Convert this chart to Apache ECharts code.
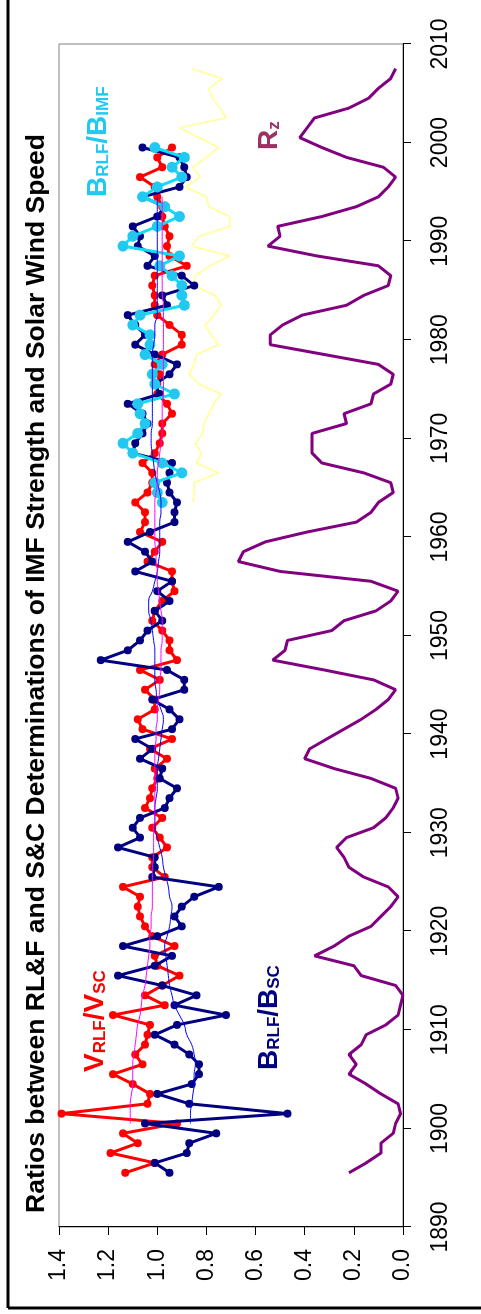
<!DOCTYPE html>
<html>
<head>
<meta charset="utf-8">
<script src="https://cdn.jsdelivr.net/npm/echarts@6/dist/echarts.min.js"></script>
<style>
  html, body { margin: 0; padding: 0; background: #fff; overflow: hidden; }
  /* chart is drawn landscape, then turned a quarter turn to stand upright */
  #chart {
    position: absolute; left: 0; top: 0;
    width: 1314px; height: 481px;
    transform-origin: 0 0;
    transform: translate(0, 1314px) rotate(-90deg);
  }
</style>
</head>
<body>
<div id="chart"></div>
<script>
// yearly values, plotted at mid-year
const startMain = 1895   // V and B ratios, 1895-1999
const vRatio = [
  1.13, 1.01, 1.19, 1.08, 1.14,
  0.92, 1.39, 1.04, 1.03, 1.10, 1.18, 1.06, 1.09, 1.05, 1.04,
  1.03, 1.18, 0.97, 1.05, 0.98, 0.91, 1.00, 1.01, 0.93, 1.02,
  1.05, 1.07, 1.08, 1.07, 1.14, 0.97, 1.02, 1.02, 0.96, 0.99,
  1.02, 0.98, 1.05, 1.03, 1.02, 1.00, 1.01, 0.96, 1.03, 0.94,
  1.06, 1.08, 1.01, 1.01, 1.05, 0.99, 1.07, 0.92, 0.95, 0.95,
  0.98, 1.02, 1.01, 0.98, 0.93, 0.94, 0.94, 1.04, 1.01, 0.98,
  1.07, 1.05, 1.05, 1.09, 1.04, 1.02, 1.02, 1.06, 1.01, 0.99,
  0.98, 0.98, 0.94, 0.96, 1.00, 1.00, 0.99, 1.01, 0.98, 0.90,
  0.90, 0.95, 1.00, 1.01, 1.01, 1.02, 1.01, 0.88, 0.95, 0.96,
  0.95, 0.97, 0.98, 0.98, 1.00, 1.01, 1.07, 0.98, 1.00, 0.94
]
const bRatio = [
  0.95, 1.01, 0.88, 0.87, 0.76,
  1.05, 0.47, 0.87, 1.00, 0.86, 0.83, 0.83, 0.87, 0.93, 1.01,
  0.92, 0.72, 0.93, 0.84, 0.98, 1.16, 1.01, 0.94, 1.14, 1.00,
  0.90, 0.93, 0.90, 0.85, 0.75, 1.02, 1.01, 1.01, 1.16, 1.07,
  1.10, 1.07, 0.97, 0.95, 0.92, 0.99, 0.98, 1.07, 1.02, 1.09,
  0.94, 0.91, 0.95, 1.02, 0.89, 0.89, 0.96, 1.23, 1.12, 1.07,
  1.04, 0.98, 1.01, 0.95, 1.00, 0.94, 1.09, 1.02, 1.05, 1.12,
  1.03, 0.93, 0.93, 0.92, 0.95, 0.96, 0.95, 0.94, 1.10, 1.09,
  1.06, 1.04, 1.06, 1.12, 0.99, 1.01, 0.95, 0.92, 1.01, 1.09,
  1.05, 1.09, 1.12, 0.96, 0.98, 0.85, 0.90, 1.04, 1.01, 1.08,
  1.07, 1.10, 1.00, 0.97, 1.06, 0.91, 0.88, 0.89, 0.91, 1.06
]

const startSmooth = 1900  // running means, 1900-1994
const vSmooth = [
  1.11, 1.11, 1.11, 1.105, 1.10, 1.10, 1.10, 1.095, 1.09, 1.085,
  1.08, 1.07, 1.065, 1.06, 1.05, 1.045, 1.04, 1.035, 1.03, 1.03,
  1.025, 1.025, 1.02, 1.02, 1.02, 1.02, 1.02, 1.015, 1.015, 1.015,
  1.015, 1.01, 1.01, 1.01, 1.01, 1.01, 1.01, 1.01, 1.01, 1.005,
  1.005, 1.0, 1.0, 0.995, 0.99, 0.99, 0.985, 0.985, 0.985, 0.98,
  0.98, 0.98, 0.985, 0.99, 0.995, 1.0, 1.0, 1.005, 1.005, 1.01,
  1.01, 1.01, 1.01, 1.01, 1.005, 1.0, 1.0, 0.995, 0.99, 0.985,
  0.98, 0.98, 0.98, 0.98, 0.975, 0.975, 0.975, 0.975, 0.975, 0.975,
  0.975, 0.975, 0.975, 0.975, 0.98, 0.98, 0.98, 0.98, 0.98, 0.98,
  0.98, 0.98, 0.98, 0.98, 0.98
]
const bSmooth = [
  0.865, 0.865, 0.86, 0.855, 0.85, 0.85, 0.845, 0.85, 0.86, 0.88,
  0.89, 0.91, 0.93, 0.94, 0.95, 0.955, 0.96, 0.965, 0.97, 0.96,
  0.95, 0.945, 0.94, 0.95, 0.955, 0.965, 0.975, 0.98, 0.99, 1.0,
  1.01, 1.01, 1.01, 1.005, 1.0, 1.0, 1.0, 0.995, 0.99, 0.985,
  0.98, 0.975, 0.985, 1.0, 1.005, 1.01, 1.01, 1.01, 1.01, 1.015,
  1.02, 1.025, 1.035, 1.035, 1.02, 1.01, 1.0, 0.995, 0.99, 0.99,
  0.99, 0.99, 0.985, 0.985, 0.99, 1.0, 1.01, 1.015, 1.02, 1.025,
  1.025, 1.02, 1.02, 1.02, 1.02, 1.02, 1.02, 1.02, 1.02, 1.015,
  1.01, 1.01, 1.0, 1.0, 1.0, 1.0, 1.0, 1.0, 1.0, 1.0,
  1.0, 1.0, 1.0, 1.0, 1.0
]

const startImf = 1963    // B_RLF/B_IMF, 1963-1999
const bImf = [
  0.98, 1.00, 1.01, 0.90, 0.98, 1.10, 1.14,
  1.08, 1.05, 1.07, 1.08, 0.93, 1.01, 1.02, 0.98, 1.05, 1.03,
  1.03, 1.10, 1.07, 0.89, 0.90, 0.90, 0.94, 0.99, 0.91, 1.14,
  1.10, 1.00, 0.91, 0.97, 1.06, 1.00, 0.90, 0.94, 0.89, 1.01
]

const startYellow = 1963 // pale yellow curve, 1963-2007
const yellowLine = [
  0.855, 0.85, 0.85, 0.75, 0.84, 0.82, 0.845,
  0.815, 0.81, 0.79, 0.77, 0.74, 0.83, 0.87, 0.85, 0.84, 0.75,
  0.78, 0.805, 0.77, 0.74, 0.765, 0.85, 0.845, 0.785, 0.705, 0.86,
  0.83, 0.705, 0.705, 0.79, 0.80, 0.885, 0.825, 0.855, 0.80, 0.75,
  0.83, 0.91, 0.72, 0.745, 0.775, 0.79, 0.735, 0.86
]

const startRz = 1895     // sunspot number Rz, scaled to the ratio axis
const rz = [
  0.22, 0.15, 0.09, 0.09, 0.04,
  0.03, 0.01, 0.02, 0.09, 0.15, 0.22, 0.19, 0.22, 0.17, 0.15,
  0.07, 0.02, 0.01, 0.00, 0.03, 0.17, 0.20, 0.36, 0.28, 0.22,
  0.13, 0.09, 0.05, 0.02, 0.06, 0.16, 0.22, 0.24, 0.27, 0.23,
  0.12, 0.07, 0.04, 0.02, 0.03, 0.13, 0.28, 0.40, 0.38, 0.31,
  0.24, 0.17, 0.11, 0.06, 0.03, 0.12, 0.32, 0.53, 0.48, 0.47,
  0.29, 0.24, 0.11, 0.05, 0.02, 0.13, 0.50, 0.67, 0.65, 0.56,
  0.39, 0.19, 0.13, 0.10, 0.04, 0.05, 0.16, 0.33, 0.37, 0.37,
  0.37, 0.23, 0.24, 0.13, 0.12, 0.05, 0.04, 0.10, 0.32, 0.54,
  0.54, 0.49, 0.41, 0.23, 0.16, 0.06, 0.05, 0.10, 0.35, 0.55,
  0.50, 0.51, 0.33, 0.19, 0.10, 0.06, 0.03, 0.08, 0.23, 0.33,
  0.42, 0.39, 0.36, 0.22, 0.14, 0.10, 0.05, 0.03
]

const FONT = 'Liberation Sans, Arial, sans-serif'

// [year + 0.5, value] pairs
function pairs(start, arr) {
  return arr.map((v, i) => [start + i + 0.5, v])
}

function rich(main, sub, main2, sub2) {
  return '{m|' + main + '}{s|' + sub + '}{m|' + main2 + '}{s|' + sub2 + '}'
}
const richStyle = {
  m: { fontSize: 28, fontWeight: 'bold', fontFamily: FONT, lineHeight: 28, verticalAlign: 'bottom' },
  s: { fontSize: 17, fontWeight: 'bold', fontFamily: FONT, lineHeight: 17, verticalAlign: 'bottom' }
}

const chart = echarts.init(document.getElementById('chart'), null, { renderer: 'canvas' })

const option = {
  animation: false,
  backgroundColor: '#fff',
  grid: { left: 87, right: 44, top: 59, bottom: 78, show: true, borderColor: '#808080', borderWidth: 1 },
  xAxis: {
    type: 'value',
    min: 1890, max: 2010, interval: 10,
    axisLine: { show: true, onZero: false, lineStyle: { color: '#000', width: 1 } },
    axisTick: { show: true, length: 8, lineStyle: { color: '#000' } },
    axisLabel: { fontSize: 23, color: '#000', margin: 26, fontFamily: FONT,
      formatter: v => String(v) },
    splitLine: { show: false }
  },
  yAxis: {
    type: 'value',
    min: 0, max: 1.4, interval: 0.2,
    axisLine: { show: true, lineStyle: { color: '#000', width: 1 } },
    axisTick: { show: true, length: 8, lineStyle: { color: '#000' } },
    axisLabel: { fontSize: 23, color: '#000', margin: 22, fontFamily: FONT,
      formatter: v => v.toFixed(1) },
    splitLine: { show: false }
  },
  series: [
    {
      name: 'Rz', type: 'line', data: pairs(startRz, rz), showSymbol: false,
      lineStyle: { color: '#800080', width: 3 }, z: 2
    },
    {
      name: 'yellow', type: 'line', data: pairs(startYellow, yellowLine), showSymbol: false,
      lineStyle: { color: '#FFFFA8', width: 2 }, z: 2
    },
    {
      name: 'V_RLF/V_SC', type: 'line', data: pairs(startMain, vRatio),
      symbol: 'circle', symbolSize: 8,
      itemStyle: { color: '#FF0000' }, lineStyle: { color: '#FF0000', width: 3 }, z: 3
    },
    {
      name: 'B_RLF/B_SC', type: 'line', data: pairs(startMain, bRatio),
      symbol: 'circle', symbolSize: 8,
      itemStyle: { color: '#000080' }, lineStyle: { color: '#000080', width: 3 }, z: 4
    },
    {
      name: 'B_RLF/B_IMF', type: 'line', data: pairs(startImf, bImf),
      symbol: 'circle', symbolSize: 11,
      itemStyle: { color: '#22C8F0' }, lineStyle: { color: '#10DDF5', width: 3 }, z: 5
    },
    {
      name: 'B mean', type: 'line', data: pairs(startSmooth, bSmooth), showSymbol: false,
      smooth: true, lineStyle: { color: '#0000FF', width: 1 }, z: 6
    },
    {
      name: 'V mean', type: 'line', data: pairs(startSmooth, vSmooth), showSymbol: false,
      smooth: true, lineStyle: { color: '#FF00FF', width: 1 }, z: 6
    }
  ],
  graphic: [
    // outer frame (left and bottom edges of the page)
    { type: 'line', shape: { x1: 6, y1: 8, x2: 1314, y2: 8 }, style: { stroke: '#000', lineWidth: 3 }, z: 100 },
    { type: 'line', shape: { x1: 6, y1: 8, x2: 6, y2: 481 }, style: { stroke: '#000', lineWidth: 3 }, z: 100 },
    {
      type: 'text', x: 101, y: 37, z: 100,
      style: {
        text: 'Ratios between RL&F and S&C Determinations of IMF Strength and Solar Wind Speed',
        font: 'bold 26.5px ' + FONT, fill: '#000', verticalAlign: 'middle', align: 'left'
      }
    },
    {
      type: 'text', x: 242, y: 109, z: 100,
      style: { text: rich('V', 'RLF', '/V', 'SC'), rich: richStyle, fill: '#FF0000', verticalAlign: 'bottom' }
    },
    {
      type: 'text', x: 244, y: 283, z: 100,
      style: { text: rich('B', 'RLF', '/B', 'SC'), rich: richStyle, fill: '#000080', verticalAlign: 'bottom' }
    },
    {
      type: 'text', x: 1117, y: 112, z: 100,
      style: { text: rich('B', 'RLF', '/B', 'IMF'), rich: richStyle, fill: '#22C8F0', verticalAlign: 'bottom' }
    },
    {
      type: 'text', x: 1164, y: 283, z: 100,
      style: { text: '{m|R}{s|z}', rich: richStyle, fill: '#993366', verticalAlign: 'bottom' }
    }
  ]
}

chart.setOption(option)
</script>
</body>
</html>
